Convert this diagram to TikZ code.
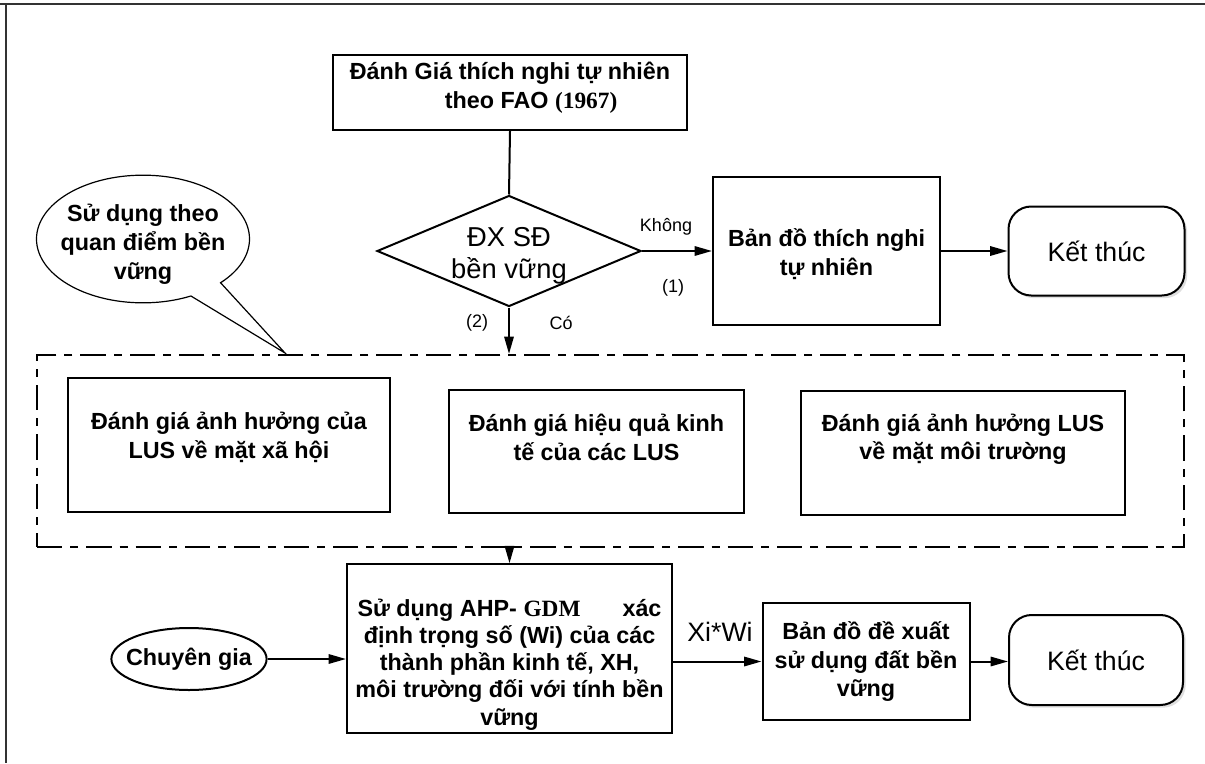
\documentclass[tikz,border=0pt]{standalone}
\usepackage{fontspec}
\setmainfont{Liberation Sans}
\newfontfamily\timesf{Liberation Serif}
\usetikzlibrary{arrows.meta,shapes.geometric,shapes.callouts,shadows}
\newdimen\pxu \pxu=0.75pt
\newcommand\lowstrut[1]{\rule[-#1]{0pt}{#1}}
\newcommand\highstrut[1]{\rule{0pt}{#1}}

\begin{document}
\begin{tikzpicture}[x=0.75pt,y=-0.75pt,line width=1.5pt,
  bfont/.style={font=\fontsize{17.5}{21.5}\selectfont\bfseries},
  box/.style={draw,bfont,align=center,inner sep=2pt},
  endbox/.style={draw,rounded corners=17pt,font=\fontsize{20}{24}\selectfont,
    minimum width=176\pxu,minimum height=89\pxu,fill=white,
    drop shadow={shadow xshift=2pt,shadow yshift=-2pt,opacity=0.25}},
  lbl/.style={font=\fontsize{13.5}{16}\selectfont,inner sep=0pt},
  arr/.style={-{Triangle[length=13pt,width=7pt]}},
  grp/.style={draw,dash pattern=on 19pt off 6pt on 6pt off 6pt}]
  \useasboundingbox (0,0) rectangle (1205,763);
  \draw[line width=2.2pt,black!80] (0,4) -- (1205,4) (6,4) -- (6,763);

  \node[box,align=left,minimum width=354\pxu,minimum height=75\pxu] (fao) at (510,92.5)
    {Đánh Giá thích nghi tự nhiên\\\hspace*{95\pxu}theo FAO {\timesf(1967)}\lowstrut{11pt}};
  \node[draw,diamond,aspect=2.38,inner xsep=0pt,inner ysep=-3.5pt,minimum width=264\pxu,minimum height=111\pxu,
    font=\fontsize{20.5}{24}\selectfont,align=center] (dx) at (509,251) {\highstrut{21pt}ĐX SĐ\\bền vững};
  \node[box,minimum width=227\pxu,minimum height=148\pxu] (tn) at (826.5,251) {\highstrut{18pt}Bản đồ thích nghi\\tự nhiên};
  \node[endbox] (end1) at (1096.5,251) {Kết thúc};

  \node[grp,minimum width=1147\pxu,minimum height=192\pxu] (grp) at (610.5,451) {};
  \node[box,minimum width=322\pxu,minimum height=134\pxu] (xh) at (229,445) {Đánh giá ảnh hưởng của\\LUS về mặt xã hội\lowstrut{14.5pt}};
  \node[box,minimum width=295\pxu,minimum height=123\pxu] (kt) at (596.5,451.5) {Đánh giá hiệu quả kinh\\tế của các LUS\lowstrut{21pt}};
  \node[box,minimum width=324\pxu,minimum height=124\pxu] (mt) at (963,453) {Đánh giá ảnh hưởng LUS\\về mặt môi trường\lowstrut{24.5pt}};

  \node[box,minimum width=325\pxu,minimum height=167\pxu,font=\fontsize{17.5}{20.4}\selectfont\bfseries] (ahp) at (509.5,648.5)
    {\highstrut{37pt}Sử dụng AHP- {\timesf GDM}\hspace{1.8em}xác\\định trọng số (Wi) của các\\thành phần kinh tế, XH,\\môi trường đối với tính bền\\vững};
  \node[draw,ellipse,bfont,inner xsep=-6pt,inner ysep=0pt,minimum width=154\pxu,minimum height=62\pxu] (cg) at (189,659) {Chuyên gia};
  \node[box,minimum width=207\pxu,minimum height=117\pxu] (dx2) at (866,661.5) {Bản đồ đề xuất\\sử dụng đất bền\\vững};
  \node[endbox,minimum width=174\pxu,minimum height=90\pxu] (end2) at (1096,660) {Kết thúc};

  \coordinate (tip) at (285,353);
  \node[draw,ellipse callout,callout absolute pointer={(tip)},callout pointer arc=20,
    bfont,align=center,inner xsep=-8pt,inner ysep=0pt,minimum width=213\pxu,
    minimum height=122\pxu,line width=0.9pt] (qd) at (143,239) {\highstrut{21pt}Sử dụng theo\\quan điểm bền\\vững};

  \draw (fao.south) -- (dx.north);
  \draw[arr] (dx.east) -- (tn.west);
  \draw[arr] (tn.east) -- (end1.west);
  \draw[arr] (dx.south) -- (dx.south |- grp.north);
  \draw[arr] (ahp.north |- grp.south) -- (ahp.north);
  \draw[arr] (cg.east) -- (cg.east -| ahp.west);
  \draw[arr] (ahp.east |- dx2.west) -- (dx2.west);
  \draw[arr] (dx2.east) -- (dx2.east -| end2.west);

  \node[lbl] (khong) at (666,227) {Không};
  \node[lbl] (n1) at (673,288) {(1)};
  \node[lbl] (n2) at (477,323) {(2)};
  \node[lbl] (co) at (561,323) {Có};
  \node[font=\fontsize{20}{24}\selectfont,inner sep=0pt] (xw) at (720,632) {Xi*Wi};
\end{tikzpicture}
\end{document}
